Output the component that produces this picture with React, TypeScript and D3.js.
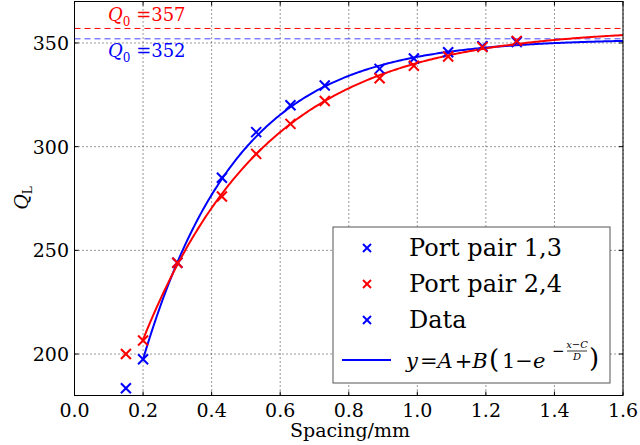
import React from "react";
import * as d3 from "d3";

// Measured loaded Q versus port spacing
const spacingPair13 = [0.15, 0.2, 0.3, 0.43, 0.53, 0.63, 0.73, 0.89, 0.99, 1.09, 1.19, 1.29];
const qPair13 = [183.5, 197.5, 244, 285, 307, 320, 329.5, 337.5, 342.5, 345.5, 348.5, 350.5];
const spacingPair24 = [0.15, 0.2, 0.3, 0.43, 0.53, 0.63, 0.73, 0.89, 0.99, 1.09, 1.19, 1.29];
const qPair24 = [200, 206.5, 244, 276, 296.5, 311, 322, 333, 339, 343.5, 348, 351];

// Fitted model y = A + B(1 - exp(-(x - C)/D)) for each port pair
const fit13 = { A: 197.5, B: 154.5, C: 0.2, D: 0.278 };
const fit24 = { A: 207, B: 150, C: 0.2, D: 0.364 };
const q0Values = [352, 357];

const xTicks = [0, 0.2, 0.4, 0.6, 0.8, 1.0, 1.2, 1.4, 1.6];
const yTicks = [200, 250, 300, 350];

const W = 640, H = 445;
const L = 74.5, R = 623, T = 1.5, B = 395.5;

const x = d3.scaleLinear().domain([0, 1.6]).range([L, R]);
const y = d3.scaleLinear().domain([180, 370]).range([B, T]);

const BLUE = "#0000ff";
const RED = "#ff0000";
const SERIF = "'DejaVu Serif', serif";

function model(p: { A: number; B: number; C: number; D: number }) {
  const xs = d3.range(p.C, 1.6 + 1e-9, 0.005);
  return xs.map((v) => [v, p.A + p.B * (1 - Math.exp(-(v - p.C) / p.D))] as [number, number]);
}

const line = d3
  .line<[number, number]>()
  .x((d) => x(d[0]))
  .y((d) => y(d[1]));

function Cross({ cx, cy, color, s = 5 }: { cx: number; cy: number; color: string; s?: number }) {
  return (
    <g stroke={color} strokeWidth={2}>
      <line x1={cx - s} y1={cy - s} x2={cx + s} y2={cy + s} />
      <line x1={cx - s} y1={cy + s} x2={cx + s} y2={cy - s} />
    </g>
  );
}

export default function App() {
  return (
    <svg
      width={W}
      height={H}
      style={{ position: "absolute", left: 0, top: 0, background: "#fff" }}
      fontFamily={SERIF}
    >
      <rect width={W} height={H} fill="#fff" />
      <defs>
        <clipPath id="plot">
          <rect x={L} y={T} width={R - L} height={B - T} />
        </clipPath>
      </defs>

      {/* grid */}
      <g stroke="#000" strokeWidth={1} strokeDasharray="1,3" opacity={0.8}>
        {xTicks.map((t) => (
          <line key={"gx" + t} x1={x(t)} x2={x(t)} y1={T} y2={B} />
        ))}
        {yTicks.map((t) => (
          <line key={"gy" + t} x1={L} x2={R} y1={y(t)} y2={y(t)} />
        ))}
      </g>

      {/* Q0 reference lines */}
      <line x1={L} x2={R} y1={y(q0Values[1])} y2={y(q0Values[1])} stroke={RED} strokeWidth={1} strokeDasharray="6,4" />
      <line x1={L} x2={R} y1={y(q0Values[0])} y2={y(q0Values[0])} stroke="#4444ff" strokeWidth={1} strokeDasharray="6,4" />
      <text x={108} y={21} fontSize={18} fill={RED}>
        <tspan fontStyle="italic">Q</tspan>
        <tspan fontSize={12} dy={5}>0</tspan>
        <tspan dy={-5}> ={q0Values[1]}</tspan>
      </text>
      <text x={108} y={57} fontSize={18} fill={BLUE}>
        <tspan fontStyle="italic">Q</tspan>
        <tspan fontSize={12} dy={5}>0</tspan>
        <tspan dy={-5}> ={q0Values[0]}</tspan>
      </text>

      <g clipPath="url(#plot)">
        <path d={line(model(fit13)) || ""} fill="none" stroke={BLUE} strokeWidth={2} />
        <path d={line(model(fit24)) || ""} fill="none" stroke={RED} strokeWidth={2} />
        {spacingPair13.map((s, i) => (
          <Cross key={"b" + i} cx={x(s)} cy={y(qPair13[i])} color={BLUE} />
        ))}
        {spacingPair24.map((s, i) => (
          <Cross key={"r" + i} cx={x(s)} cy={y(qPair24[i])} color={RED} />
        ))}
      </g>

      {/* ticks */}
      <g stroke="#000" strokeWidth={1}>
        {xTicks.map((t) => (
          <g key={"tx" + t}>
            <line x1={x(t)} x2={x(t)} y1={B} y2={B - 4} />
            <line x1={x(t)} x2={x(t)} y1={T} y2={T + 4} />
          </g>
        ))}
        {yTicks.map((t) => (
          <g key={"ty" + t}>
            <line x1={L} x2={L + 4} y1={y(t)} y2={y(t)} />
            <line x1={R} x2={R - 4} y1={y(t)} y2={y(t)} />
          </g>
        ))}
      </g>
      <rect x={L} y={T} width={R - L} height={B - T} fill="none" stroke="#000" strokeWidth={1} />

      {/* tick labels */}
      {xTicks.map((t) => (
        <text key={"lx" + t} x={x(t)} y={417} fontSize={19} textAnchor="middle">
          {t.toFixed(1)}
        </text>
      ))}
      {yTicks.map((t) => (
        <text key={"ly" + t} x={69} y={y(t) + 7} fontSize={19} textAnchor="end">
          {t}
        </text>
      ))}

      {/* axis labels */}
      <text x={350} y={437} fontSize={19} textAnchor="middle">Spacing/mm</text>
      <text transform="translate(28,198) rotate(-90)" fontSize={19} textAnchor="middle">
        <tspan fontStyle="italic">Q</tspan>
        <tspan fontSize={12} dy={4}>L</tspan>
      </text>

      {/* legend */}
      <g>
        <rect x={333} y={227} width={277} height={156} fill="#fff" stroke="#555" strokeWidth={1} />
        <Cross cx={367} cy={248} color={BLUE} s={4} />
        <text x={409} y={256} fontSize={24}>Port pair 1,3</text>
        <Cross cx={367} cy={284} color={RED} s={4} />
        <text x={409} y={292} fontSize={24}>Port pair 2,4</text>
        <Cross cx={367} cy={320} color={BLUE} s={4} />
        <text x={409} y={328} fontSize={24}>Data</text>
        <line x1={342} x2={391} y1={360} y2={360} stroke={BLUE} strokeWidth={2} />
        <text x={406} y={368} fontSize={21}>
          <tspan fontStyle="italic">y</tspan>
          <tspan dx={2}>=</tspan>
          <tspan fontStyle="italic">A</tspan>
          <tspan dx={2}>+</tspan>
          <tspan fontStyle="italic">B</tspan>
          <tspan x={489} fontSize={26} fontWeight={200}>(</tspan>
          <tspan x={502}>1−</tspan>
          <tspan fontStyle="italic">e</tspan>
          <tspan x={552} y={356} fontSize={15}>−</tspan>
        </text>
        <text x={577} y={348} fontSize={10} fontStyle="italic" textAnchor="middle">x−C</text>
        <line x1={567} x2={587} y1={351} y2={351} stroke="#000" strokeWidth={0.8} />
        <text x={577} y={360} fontSize={10} fontStyle="italic" textAnchor="middle">D</text>
        <text x={589} y={367} fontSize={26} fontWeight={200}>)</text>
      </g>
    </svg>
  );
}
